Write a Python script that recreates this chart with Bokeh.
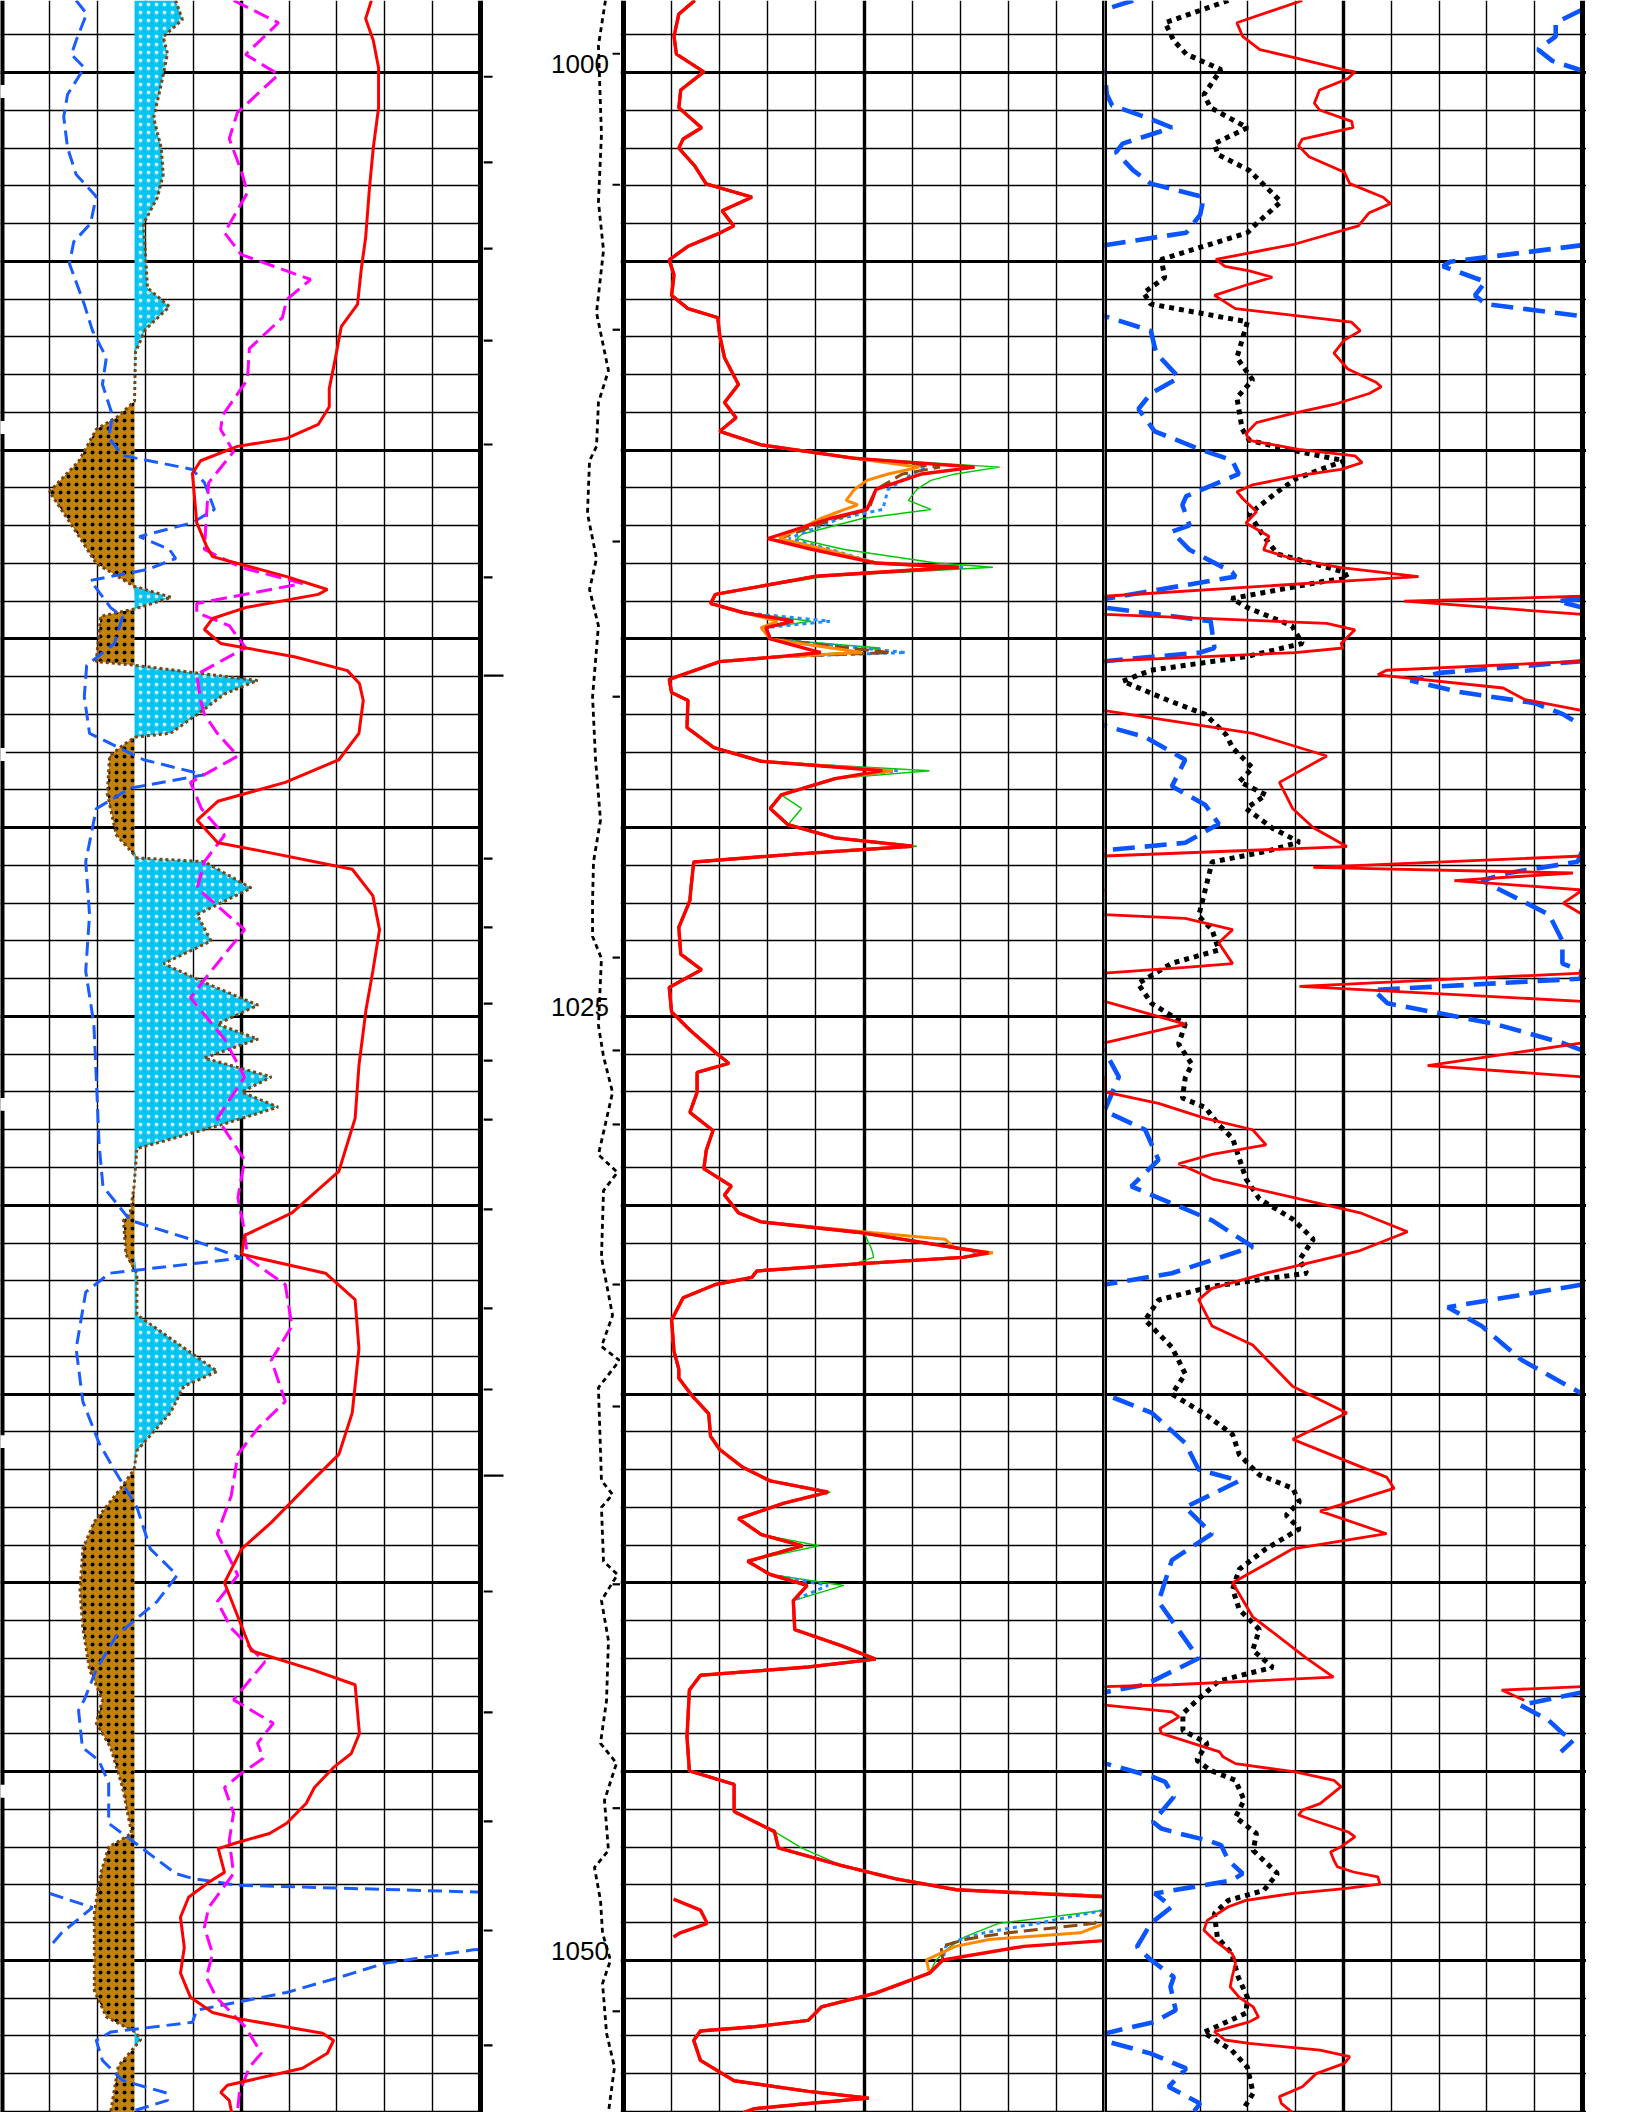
import numpy as np
from bokeh.plotting import figure
from bokeh.layouts import row
from bokeh.models import Range1d, Grid, FixedTicker
from bokeh.embed import file_html
from bokeh.resources import INLINE
from bokeh.core.properties import value

# ---------------- depth window, grid and depth-track marks ----------------
DEPTH_TOP = 998.09
DEPTH_BOTTOM = 1054.03
MAJOR_DEPTHS = list(range(995, 1060, 5))
MINOR_DEPTHS = [d for d in range(995, 1060) if d % 5]
DIVS_MAJOR = [5]
DIVS_MINOR = [1, 2, 3, 4, 6, 7, 8, 9]
DEPTH_LABELS = [1000, 1025, 1050]
LEFT_TICKS = [1000.11, 1002.38, 1004.66, 1007.1, 1009.85, 1013.37, 1020.82, 1022.64, 1024.66,
              1026.17, 1027.73, 1030.11, 1032.73, 1034.88, 1040.23, 1043.43, 1046.32, 1049.21, 1052.25]
LEFT_LONG_TICKS = [1015.97, 1037.16]
RIGHT_TICKS = [999.5, 1002.97, 1006.81, 1012.42, 1016.53, 1023.44, 1025.9, 1027.86, 1032.1,
               1035.33, 1040.04, 1045.97, 1051.35]
EDGE_GAPS = [1000.5, 1009.4, 1018.06, 1027.33, 1036.26, 1045.52]
SP_CUTOFF = 2.77

# ---------------- track 1 ----------------
SP = [(998.09, 3.63), (998.6, 3.77), (999.05, 3.37), (999.5, 3.46), (1000.3, 3.33), (1001.2, 3.17),
      (1002.0, 3.33), (1002.7, 3.37), (1003.3, 3.25), (1004.0, 2.96), (1004.8, 3.0), (1005.7, 3.04),
      (1006.2, 3.5), (1006.8, 3.0), (1007.4, 2.79), (1008.7, 2.77), (1009.1, 2.43), (1009.45, 1.97),
      (1010.3, 1.6), (1011.1, 0.99), (1012.05, 1.49), (1013.0, 1.97), (1013.6, 2.75), (1013.9, 3.54),
      (1014.2, 2.79), (1014.4, 2.06), (1015.6, 1.97), (1015.7, 2.79), (1016.1, 5.34), (1016.46, 4.65),
      (1017.0, 4.08), (1017.5, 3.52), (1017.6, 2.79), (1017.8, 2.54), (1018.1, 2.25), (1019.1, 2.2),
      (1020.2, 2.39), (1020.6, 2.68), (1020.8, 2.82), (1020.9, 4.23), (1021.6, 5.21), (1022.3, 4.08),
      (1023.0, 4.37), (1023.6, 3.38), (1024.1, 4.23), (1024.7, 5.35), (1025.2, 4.5), (1025.6, 5.35),
      (1026.1, 4.23), (1026.6, 5.63), (1027.0, 5.01), (1027.4, 5.77), (1027.9, 4.5), (1028.2, 3.66),
      (1028.5, 2.82), (1029.5, 2.76), (1030.2, 2.68), (1030.4, 2.54), (1031.3, 2.59), (1031.8, 2.82),
      (1032.9, 2.82), (1033.4, 3.38), (1033.9, 3.94), (1034.4, 4.5), (1034.8, 3.8), (1035.5, 3.52),
      (1036.1, 3.1), (1036.5, 2.82), (1037.0, 2.76), (1037.5, 2.48), (1038.4, 1.92), (1039.1, 1.69),
      (1040.2, 1.63), (1041.2, 1.69), (1042.3, 1.83), (1043.1, 2.1), (1043.72, 1.97), (1044.36, 2.27),
      (1045.42, 2.52), (1046.64, 2.71), (1047.0, 2.23), (1047.7, 2.06), (1048.75, 1.93), (1050.8, 1.93),
      (1051.5, 2.18), (1051.9, 2.79), (1052.1, 2.9), (1052.3, 2.77), (1052.8, 2.43), (1054.03, 2.27)]

BLUE1 = [(998.09, 1.55), (998.44, 1.77), (999.15, 1.55), (999.52, 1.45), (999.87, 1.72), (1000.58, 1.37),
         (1001.17, 1.29), (1001.99, 1.37), (1002.7, 1.55), (1003.28, 1.97), (1004.0, 1.85), (1004.48, 1.5),
         (1005.06, 1.41), (1006.14, 1.72), (1006.83, 1.89), (1007.55, 2.18), (1008.26, 2.1), (1009.08, 2.31),
         (1009.67, 2.23), (1010.14, 2.52), (1010.51, 3.98), (1010.86, 4.23), (1011.57, 4.44), (1011.92, 3.98),
         (1012.29, 2.87), (1012.63, 3.5), (1012.87, 3.63), (1013.16, 3.04), (1013.45, 1.85), (1014.17, 2.27),
         (1014.41, 2.52), (1015.12, 2.35), (1015.7, 1.77), (1016.53, 1.72), (1017.5, 1.83), (1018.2, 2.96),
         (1018.6, 4.23), (1018.95, 2.68), (1019.5, 1.97), (1020.9, 1.75), (1022.3, 1.83), (1023.8, 1.75),
         (1025.2, 1.92), (1026.6, 1.97), (1028.4, 2.03), (1029.5, 2.11), (1030.4, 2.68), (1030.9, 3.94),
         (1031.4, 5.01), (1031.8, 2.25), (1032.3, 1.75), (1033.8, 1.55), (1035.2, 1.69), (1036.3, 2.03),
         (1037.1, 2.39), (1038.0, 2.82), (1039.1, 3.1), (1039.8, 3.66), (1040.5, 3.24), (1041.4, 2.39),
         (1042.3, 1.97), (1043.1, 1.72), (1043.38, 1.6), (1044.36, 1.68), (1044.7, 2.02), (1045.3, 2.23),
         (1046.37, 2.23), (1046.9, 2.79), (1047.7, 3.63), (1047.83, 3.98), (1048.01, 4.92), (1048.23, 11.0),
         (1048.6, 11.89), (1049.28, 11.24), (1049.65, 10.99), (1049.72, 9.85), (1050.08, 7.99), (1050.48, 6.97),
         (1050.85, 5.95), (1051.32, 4.07), (1051.64, 3.98), (1051.9, 2.27), (1052.12, 1.97), (1052.65, 2.1),
         (1053.18, 2.52), (1053.52, 3.46), (1053.71, 3.46), (1053.97, 2.79)]

MAGENTA1 = [(998.09, 4.84), (998.68, 5.78), (999.52, 5.09), (1000.05, 5.78), (1001.06, 4.92), (1001.75, 4.75),
            (1002.6, 5.0), (1003.18, 5.13), (1004.24, 4.65), (1004.82, 5.0), (1005.48, 6.45), (1006.01, 5.95),
            (1006.49, 5.86), (1007.31, 5.17), (1008.13, 5.13), (1009.08, 4.61), (1009.45, 4.57), (1010.04, 4.84),
            (1010.86, 4.32), (1011.81, 4.27), (1012.63, 4.23), (1013.11, 5.0), (1013.53, 6.28), (1014.06, 4.07),
            (1014.3, 4.07), (1014.65, 4.75), (1015.23, 5.09), (1015.94, 4.07), (1016.63, 4.15), (1017.0, 4.23),
            (1017.5, 4.5), (1018.1, 4.93), (1018.8, 3.94), (1019.5, 4.17), (1020.2, 4.65), (1020.9, 4.23),
            (1021.6, 4.08), (1022.7, 5.07), (1023.8, 4.37), (1024.5, 3.94), (1025.6, 4.65), (1026.6, 5.07),
            (1027.7, 4.5), (1028.8, 5.07), (1029.8, 4.93), (1030.7, 5.07), (1031.4, 5.13), (1032.1, 5.92),
            (1033.2, 6.06), (1034.1, 5.63), (1035.2, 5.92), (1035.9, 5.35), (1036.6, 4.93), (1037.7, 4.79),
            (1038.7, 4.5), (1039.8, 4.93), (1040.5, 4.5), (1041.2, 4.79), (1042.1, 5.49), (1043.1, 4.84),
            (1043.72, 5.67), (1044.25, 5.34), (1044.65, 5.46), (1045.05, 5.0), (1045.42, 4.65), (1046.1, 4.84),
            (1046.82, 4.75), (1047.7, 4.84), (1048.6, 4.32), (1049.13, 4.23), (1049.82, 4.4), (1050.45, 4.27),
            (1050.98, 4.48), (1051.77, 5.09), (1052.46, 5.42), (1052.83, 5.17), (1053.52, 4.96), (1054.03, 4.92)]

RED1 = [(998.09, 7.72), (998.57, 7.6), (999.15, 7.76), (999.87, 7.87), (1000.93, 7.87), (1001.99, 7.76),
        (1003.05, 7.68), (1004.37, 7.6), (1005.19, 7.51), (1006.14, 7.43), (1006.73, 7.09), (1007.55, 6.97),
        (1008.37, 6.84), (1008.85, 6.84), (1009.32, 6.61), (1009.69, 5.95), (1009.9, 4.92), (1010.28, 4.15),
        (1010.62, 3.98), (1011.92, 4.07), (1012.53, 4.27), (1012.82, 4.4), (1013.35, 5.95), (1013.69, 6.8),
        (1013.82, 6.61), (1014.17, 5.09), (1014.46, 4.4), (1014.75, 4.23), (1015.12, 4.57), (1015.47, 6.11),
        (1015.84, 7.22), (1016.18, 7.47), (1016.63, 7.55), (1017.5, 7.46), (1018.2, 7.04), (1018.8, 5.92),
        (1019.3, 4.51), (1019.8, 4.08), (1020.4, 4.51), (1020.6, 5.35), (1021.1, 7.32), (1021.8, 7.75),
        (1022.7, 7.89), (1023.8, 7.75), (1024.8, 7.61), (1026.3, 7.46), (1027.7, 7.38), (1029.1, 7.04),
        (1030.2, 6.06), (1030.8, 5.07), (1031.3, 5.01), (1031.8, 6.76), (1032.5, 7.38), (1033.8, 7.46),
        (1035.5, 7.32), (1036.6, 7.04), (1037.3, 6.48), (1038.4, 5.63), (1039.1, 5.01), (1040.0, 4.65),
        (1040.9, 4.93), (1041.8, 5.21), (1042.3, 6.48), (1042.7, 7.38), (1043.99, 7.47), (1044.52, 7.3),
        (1044.89, 6.93), (1045.42, 6.53), (1045.84, 6.36), (1046.37, 5.95), (1046.64, 5.59), (1046.88, 4.92),
        (1047.04, 4.52), (1047.67, 4.65), (1047.93, 4.32), (1048.33, 3.9), (1048.86, 3.73), (1049.66, 3.81),
        (1050.34, 3.73), (1050.98, 3.94), (1051.38, 4.4), (1051.54, 4.92), (1051.93, 6.7), (1052.12, 6.93),
        (1052.46, 6.8), (1052.86, 6.28), (1053.31, 4.71), (1053.5, 4.57), (1053.71, 4.75), (1054.03, 4.8)]

# ---------------- depth track curve ----------------
DEPTH_CURVE = [(998.09, 8.9), (999.28, 8.39), (1001.64, 8.61), (1003.42, 8.39), (1004.71, 8.76), (1006.36, 8.25),
               (1007.89, 9.12), (1008.74, 8.39), (1009.9, 8.25), (1010.28, 7.74), (1011.68, 7.59), (1012.87, 8.25),
               (1013.69, 7.74), (1014.65, 8.39), (1016.53, 7.96), (1018.2, 8.18), (1019.8, 8.54), (1020.9, 8.03),
               (1021.93, 7.96), (1022.88, 7.96), (1023.46, 8.61), (1025.24, 8.39), (1026.06, 8.76), (1027.01, 9.42),
               (1028.66, 8.39), (1029.13, 9.78), (1029.61, 8.76), (1031.38, 8.61), (1032.92, 9.42), (1033.74, 8.61),
               (1034.11, 9.93), (1034.83, 8.39), (1037.29, 8.61), (1037.66, 9.42), (1038.0, 8.61), (1039.43, 8.76),
               (1039.78, 9.78), (1040.47, 8.61), (1041.53, 9.12), (1043.12, 8.98), (1044.25, 8.54), (1044.78, 9.71),
               (1045.76, 8.83), (1047.09, 9.12), (1047.54, 8.1), (1048.41, 8.54), (1049.28, 8.69), (1050.0, 9.27),
               (1050.61, 8.69), (1051.93, 8.98), (1052.83, 9.56), (1054.03, 9.12)]

# ---------------- track 2 ----------------
RED2 = [(998.09, 1.48), (998.45, 1.15), (999.04, 1.05), (999.51, 1.1), (999.98, 1.67), (1000.46, 1.19),
        (1000.93, 1.15), (1001.46, 1.62), (1001.76, 1.24), (1002.0, 1.15), (1002.47, 1.48), (1002.95, 1.72),
        (1003.3, 2.67), (1003.66, 2.05), (1004.06, 2.29), (1004.25, 2.0), (1004.6, 1.34), (1004.96, 0.95),
        (1005.36, 1.05), (1005.9, 1.0), (1006.25, 1.34), (1006.49, 1.96), (1006.96, 2.0), (1007.55, 2.1),
        (1008.26, 2.39), (1008.74, 2.1), (1009.14, 2.34), (1009.5, 2.0), (1009.86, 2.86), (1010.21, 4.77),
        (1010.45, 7.3), (1010.63, 6.2), (1011.04, 5.25), (1011.57, 5.06), (1011.81, 4.29), (1012.34, 3.0),
        (1012.63, 3.91), (1012.99, 5.25), (1013.1, 6.97), (1013.34, 4.0), (1013.82, 1.91), (1014.06, 1.81),
        (1014.3, 2.48), (1014.53, 3.53), (1014.7, 2.96), (1015.0, 3.05), (1015.36, 4.1), (1015.47, 3.24),
        (1015.6, 2.0), (1016.07, 0.95), (1016.42, 1.0), (1016.63, 1.34), (1017.35, 1.32), (1017.88, 1.88),
        (1018.24, 2.86), (1018.49, 5.38), (1018.7, 4.4), (1019.13, 3.28), (1019.49, 3.05), (1019.92, 3.42),
        (1020.27, 4.4), (1020.49, 6.02), (1020.7, 3.56), (1020.91, 1.46), (1021.63, 1.4), (1021.93, 1.38),
        (1022.64, 1.15), (1023.35, 1.19), (1023.76, 1.62), (1024.23, 0.95), (1024.88, 1.0), (1025.36, 1.38),
        (1025.95, 1.91), (1026.24, 2.19), (1026.48, 1.53), (1027.01, 1.53), (1027.54, 1.38), (1028.02, 1.86),
        (1028.55, 1.72), (1029.03, 1.67), (1029.49, 2.24), (1029.73, 2.1), (1030.2, 2.39), (1030.44, 2.86),
        (1030.73, 4.96), (1031.14, 6.97), (1031.26, 7.59), (1031.38, 7.06), (1031.56, 4.77), (1031.74, 2.77),
        (1031.91, 2.67), (1032.1, 1.91), (1032.45, 1.24), (1033.04, 1.0), (1033.87, 1.05), (1034.34, 1.15),
        (1034.58, 1.15), (1035.05, 1.43), (1035.52, 1.77), (1036.12, 1.81), (1036.47, 2.0), (1036.94, 2.48),
        (1037.3, 3.05), (1037.6, 4.25), (1037.89, 3.34), (1038.3, 2.39), (1038.72, 2.86), (1039.02, 3.72),
        (1039.43, 2.58), (1039.78, 3.05), (1040.07, 3.82), (1040.47, 3.53), (1041.24, 3.56), (1041.67, 4.54),
        (1042.02, 5.24), (1042.23, 3.84), (1042.45, 1.6), (1042.84, 1.37), (1044.09, 1.32), (1044.98, 1.37),
        (1045.34, 2.3), (1046.06, 2.3), (1046.59, 3.14), (1047.02, 3.22), (1047.49, 4.54), (1047.84, 5.66),
        (1048.13, 6.92), (1048.38, 11.04), (1048.67, 11.6), (1049.02, 11.74), (1049.27, 11.18),
        (1049.38, 11.04), (1049.63, 8.32), (1049.99, 6.64), (1050.34, 6.36), (1050.87, 5.24),
        (1051.23, 4.12), (1051.59, 3.84), (1051.76, 2.72), (1051.87, 1.6), (1052.12, 1.46), (1052.65, 1.6),
        (1053.19, 2.3), (1053.47, 3.84), (1053.65, 5.1), (1053.79, 3.84), (1053.93, 2.72), (1054.03, 2.5)]

GREEN2_DIFF = {1010.21: 4.9, 1010.45: 7.82, 1010.63: 6.9, 1010.8: 6.39, 1011.04: 6.1, 1011.33: 5.92,
               1011.57: 6.39, 1011.81: 4.96, 1012.22: 3.72, 1012.34: 3.6, 1012.52: 4.2, 1012.63: 4.6,
               1012.99: 6.5, 1013.1: 7.68, 1013.34: 4.2, 1014.53: 3.9, 1015.24: 5.34, 1015.36: 4.6,
               1018.49: 6.36, 1019.49: 3.7, 1020.49: 6.1, 1030.73: 5.0, 1031.14: 5.15, 1031.26: 5.18,
               1031.38: 5.2, 1031.56: 4.77, 1037.6: 4.3, 1039.02: 4.06, 1040.07: 4.58, 1042.02: 5.2,
               1047.02: 3.7, 1048.3: 10.0, 1048.38: 10.0, 1048.67: 10.0, 1049.02: 7.8, 1049.27: 7.3,
               1049.38: 7.1, 1049.45: 7.0, 1049.63: 6.8, 1049.99: 6.5}
ORANGE2_DIFF = {1010.45: 6.15, 1010.63: 5.5, 1010.8: 5.06, 1011.04: 4.8, 1011.33: 4.63, 1011.45: 4.87,
                1011.57: 4.6, 1011.81: 4.1, 1012.34: 3.24, 1012.63: 4.2, 1013.1: 6.87, 1014.53: 3.2,
                1014.7: 2.86, 1015.36: 4.96, 1018.49: 5.6, 1020.49: 6.0, 1030.73: 5.2, 1030.9: 6.68,
                1031.14: 6.9, 1031.26: 7.68, 1048.3: 10.0, 1048.38: 10.0, 1048.67: 10.0, 1049.02: 10.0,
                1049.27: 9.5, 1049.38: 8.3, 1049.45: 7.6, 1049.63: 6.9, 1049.99: 6.3}
BROWN2_DIFF = {1010.45: 6.58, 1010.63: 5.8, 1011.04: 5.25, 1011.57: 5.1, 1011.81: 4.4, 1012.34: 3.24,
               1012.63: 4.1, 1013.1: 6.97, 1015.36: 5.53, 1018.49: 5.5, 1048.3: 10.0, 1048.38: 10.0,
               1048.67: 10.0, 1049.02: 9.8, 1049.27: 8.0, 1049.38: 7.4, 1049.45: 7.1, 1049.63: 6.6}
BLUE2_DIFF = {1010.45: 6.3, 1010.63: 6.0, 1011.04: 5.5, 1011.57: 5.39, 1011.81: 4.5, 1012.34: 3.44,
              1012.63: 4.3, 1013.1: 7.06, 1014.53: 4.29, 1015.36: 5.87, 1018.49: 5.7, 1031.26: 7.44,
              1037.6: 4.29, 1040.07: 4.25, 1048.3: 10.0, 1048.38: 10.0, 1048.67: 10.0, 1049.02: 8.6,
              1049.27: 7.5, 1049.38: 7.2, 1049.45: 7.0, 1049.63: 6.7}

# ---------------- track 3 ----------------
DOT3 = [(998.09, 2.59), (998.68, 1.27), (999.15, 1.45), (999.51, 1.71), (999.92, 2.44), (1000.58, 2.08),
        (1000.93, 2.22), (1001.46, 2.99), (1001.88, 2.3), (1002.17, 2.37), (1002.59, 3.03), (1003.42, 3.69),
        (1004.0, 3.18), (1004.24, 2.99), (1004.95, 1.19), (1005.43, 1.26), (1005.83, 0.82), (1006.13, 0.97),
        (1006.6, 2.99), (1007.55, 2.77), (1008.14, 3.1), (1008.61, 2.77), (1009.44, 2.88), (1009.74, 3.03),
        (1010.04, 4.06), (1010.28, 5.02), (1010.74, 4.03), (1011.1, 3.62), (1011.69, 3.03), (1012.28, 3.33),
        (1012.75, 3.62), (1013.23, 5.02), (1013.4, 5.09), (1013.46, 4.65), (1013.93, 2.66), (1014.17, 2.99),
        (1014.65, 3.92), (1015.12, 4.14), (1015.47, 2.96), (1015.83, 0.97), (1016.12, 0.38), (1016.63, 1.34),
        (1017.0, 2.11), (1017.53, 2.54), (1017.88, 2.68), (1018.42, 3.1), (1018.78, 2.82), (1019.13, 3.38),
        (1019.49, 2.96), (1020.02, 3.52), (1020.38, 4.08), (1020.63, 3.38), (1020.91, 2.25), (1021.63, 2.11),
        (1022.34, 1.97), (1022.7, 2.25), (1023.24, 2.39), (1023.59, 1.41), (1024.13, 0.7), (1024.66, 0.99),
        (1025.2, 1.69), (1025.73, 1.55), (1026.27, 1.83), (1026.62, 1.69), (1027.16, 1.63), (1027.41, 2.11),
        (1027.87, 2.39), (1028.23, 2.68), (1028.76, 2.82), (1029.3, 2.96), (1029.83, 3.24), (1030.37, 3.94),
        (1030.9, 4.37), (1031.44, 4.08), (1031.8, 4.23), (1032.15, 2.25), (1032.51, 1.13), (1033.04, 0.85),
        (1033.76, 1.41), (1034.47, 1.69), (1035.0, 1.41), (1035.54, 2.11), (1036.07, 2.68), (1036.61, 2.82),
        (1037.14, 3.24), (1037.5, 3.94), (1037.86, 4.08), (1038.21, 3.8), (1038.57, 4.08), (1039.1, 3.38),
        (1039.64, 2.82), (1040.17, 2.68), (1040.71, 2.82), (1041.24, 3.24), (1041.78, 3.1), (1042.24, 3.52),
        (1042.6, 2.39), (1043.2, 1.86), (1043.46, 1.64), (1043.91, 1.64), (1044.25, 2.15), (1044.7, 1.93),
        (1044.97, 2.22), (1045.23, 2.74), (1045.76, 2.92), (1046.21, 2.74), (1046.64, 3.18), (1047.09, 3.11),
        (1047.7, 3.62), (1048.15, 3.33), (1048.41, 2.59), (1048.76, 2.3), (1049.39, 2.36), (1049.81, 2.66),
        (1050.45, 2.8), (1050.98, 2.99), (1051.4, 2.96), (1051.91, 2.07), (1052.38, 2.66), (1052.83, 2.99),
        (1053.52, 3.11), (1053.97, 2.89)]

RED3 = [(998.09, 4.14), (998.68, 2.77), (999.04, 2.89), (999.39, 3.25), (999.63, 4.06), (999.93, 5.02),
        (999.98, 5.24), (1000.16, 5.09), (1000.46, 4.5), (1000.81, 4.39), (1000.99, 4.5), (1001.29, 5.17),
        (1001.46, 5.2), (1001.76, 4.14), (1001.94, 4.06), (1002.23, 4.28), (1002.64, 5.02), (1002.94, 5.13),
        (1003.3, 5.83), (1003.47, 5.98), (1003.71, 5.54), (1004.06, 5.31), (1004.54, 3.99), (1004.95, 2.33),
        (1005.13, 2.52), (1005.25, 3.03), (1005.42, 3.51), (1005.6, 3.03), (1005.9, 2.3), (1006.25, 2.74),
        (1006.61, 5.17), (1006.84, 5.35), (1007.08, 5.02), (1007.43, 4.8), (1007.85, 5.09), (1008.2, 5.68),
        (1008.32, 5.79), (1008.5, 5.54), (1008.79, 4.8), (1009.03, 3.92), (1009.27, 3.18), (1009.56, 2.96),
        (1009.74, 3.03), (1009.98, 4.06), (1010.15, 5.24), (1010.33, 5.39), (1010.51, 4.95), (1010.69, 3.99),
        (1010.92, 3.1), (1011.1, 2.77), (1011.28, 2.89), (1011.63, 3.18), (1011.93, 2.96), (1012.28, 3.44),
        (1012.64, 3.33), (1012.87, 3.92), (1013.11, 4.95), (1013.35, 6.57), (1013.46, 5.09), (1013.87, 0.0),
        (1014.0, -3.73), (1014.35, 0.0), (1014.59, 4.65), (1014.76, 5.24), (1015.12, 4.95), (1015.24, 4.99),
        (1015.36, 3.99), (1015.59, 0.0), (1015.83, -4.1), (1015.95, -4.28), (1016.3, -1.66), (1016.6, -1.22),
        (1016.9, 0.0), (1017.5, 3.1), (1018.1, 4.65), (1018.8, 3.66), (1019.5, 3.94), (1020.0, 4.37),
        (1020.5, 5.07), (1020.75, 0.0), (1021.05, -5.63), (1021.2, -0.2), (1021.4, -2.68), (1021.65, 0.0),
        (1022.0, -0.4), (1022.3, 0.0), (1022.4, 1.69), (1022.7, 2.68), (1023.05, 2.39), (1023.6, 2.68),
        (1023.7, 1.69), (1023.85, 0.0), (1024.2, -5.92), (1024.6, 0.0), (1025.2, 1.69), (1025.7, 0.0),
        (1026.3, -3.24), (1026.6, 0.0), (1027.0, 0.0), (1027.3, 1.13), (1027.7, 2.11), (1028.0, 3.1),
        (1028.4, 3.38), (1028.65, 2.25), (1028.9, 1.55), (1029.3, 2.25), (1030.2, 5.35), (1030.7, 6.34),
        (1031.2, 5.35), (1031.8, 3.38), (1032.2, 2.25), (1032.5, 1.97), (1033.2, 2.25), (1033.7, 3.1),
        (1034.8, 3.94), (1035.5, 5.07), (1036.2, 3.94), (1037.2, 5.9), (1037.5, 6.06), (1038.1, 4.51),
        (1038.7, 5.9), (1039.1, 3.94), (1040.0, 2.68), (1040.9, 3.1), (1042.0, 4.23), (1042.5, 4.79),
        (1042.7, 1.41), (1042.75, 0.0), (1042.84, -1.69), (1043.11, -1.22), (1043.24, 0.01), (1043.42, 1.41),
        (1043.55, 1.56), (1043.86, 1.16), (1043.99, 1.19), (1044.48, 2.41), (1044.61, 2.48), (1044.79, 2.74),
        (1045.01, 3.99), (1045.23, 4.8), (1045.4, 4.95), (1045.85, 4.51), (1046.02, 4.14), (1046.15, 4.06),
        (1046.29, 4.36), (1046.6, 5.1), (1046.73, 5.24), (1046.99, 4.95), (1047.13, 4.73), (1047.35, 4.8),
        (1047.52, 4.87), (1047.66, 5.21), (1047.79, 5.72), (1047.98, 5.76), (1048.1, 5.02), (1048.23, 3.92),
        (1048.41, 2.96), (1048.58, 2.59), (1048.94, 2.15), (1049.2, 2.08), (1049.47, 2.3), (1049.82, 2.67),
        (1050.08, 2.74), (1050.44, 2.67), (1050.7, 2.63), (1050.97, 2.81), (1051.23, 3.11), (1051.5, 3.22),
        (1051.63, 3.03), (1051.89, 2.3), (1052.11, 2.52), (1052.2, 3.03), (1052.38, 4.51), (1052.55, 5.13),
        (1052.73, 5.02), (1053.0, 4.43), (1053.35, 4.14), (1053.61, 3.66), (1053.79, 3.7), (1054.02, 3.92)]

BLUE3 = [(998.09, 0.6), (998.33, 0.0), (998.68, -0.56), (999.04, -0.56), (999.39, -0.93), (999.69, -0.63),
         (999.95, 0.0), (1000.58, 0.05), (1000.87, 0.16), (1001.23, 0.97), (1001.46, 1.41), (1001.88, 0.38),
         (1002.11, 0.24), (1002.59, 0.6), (1002.94, 0.97), (1003.3, 2.08), (1003.77, 2.0), (1004.24, 1.71),
         (1004.57, 0.0), (1005.01, -2.77), (1005.13, -2.92), (1005.54, -2.03), (1005.9, -2.25), (1006.13, -2.03),
         (1006.45, 0.0), (1006.84, 0.97), (1007.43, 1.08), (1008.08, 1.56), (1008.5, 0.97), (1008.91, 0.71),
         (1009.5, 1.05), (1009.98, 2.0), (1010.27, 2.67), (1010.63, 2.81), (1011.22, 1.71), (1011.45, 1.63),
         (1011.99, 1.78), (1012.16, 1.41), (1012.64, 1.78), (1013.23, 2.67), (1013.35, 2.74), (1013.94, 0.0),
         (1014.0, -0.52), (1014.17, 0.0), (1014.53, 2.22), (1015.24, 2.3), (1015.36, 2.0), (1015.59, 0.0),
         (1015.9, -3.0), (1016.1, -3.6), (1016.4, -2.6), (1016.7, -1.0), (1017.0, -0.4), (1017.3, 0.0),
         (1017.6, 0.85), (1018.2, 1.69), (1018.9, 1.41), (1019.4, 2.11), (1019.9, 2.39), (1020.4, 1.69),
         (1020.6, 0.0), (1020.9, -0.1), (1021.2, -1.55), (1021.4, -2.11), (1022.3, -0.7), (1023.0, -0.42),
         (1023.6, -0.42), (1023.8, 0.0), (1024.0, -0.05), (1024.3, -4.37), (1024.65, -4.08), (1025.2, -1.83),
         (1025.7, -0.42), (1025.9, 0.0), (1026.6, 0.3), (1027.5, 0.0), (1028.0, 0.85), (1028.8, 1.13),
         (1029.5, 0.56), (1030.4, 2.25), (1031.1, 3.1), (1031.8, 1.41), (1032.1, 0.0), (1032.7, -2.82),
         (1033.2, -2.11), (1034.1, -1.27), (1035.0, 0.0), (1035.5, 0.99), (1036.3, 1.69), (1037.0, 1.97),
         (1037.3, 2.82), (1038.0, 1.69), (1038.7, 2.25), (1039.4, 1.41), (1040.5, 1.13), (1042.0, 1.97),
         (1042.7, 0.85), (1042.9, 0.0), (1043.24, -1.3), (1043.64, -0.71), (1043.99, -0.41), (1044.17, -0.19),
         (1044.48, -0.45), (1044.79, 0.03), (1045.14, 1.01), (1045.27, 1.27), (1045.67, 1.45), (1046.11, 1.16),
         (1046.33, 1.01), (1046.51, 1.19), (1046.64, 1.56), (1046.82, 2.15), (1046.95, 2.44), (1047.35, 2.59),
         (1047.7, 2.89), (1047.88, 2.67), (1048.23, 1.05), (1048.58, 1.41), (1049.02, 0.97), (1049.64, 0.68),
         (1049.99, 0.97), (1050.44, 1.45), (1050.7, 1.38), (1051.32, 1.49), (1051.63, 1.05), (1051.89, 0.16),
         (1051.94, -0.02), (1052.16, 0.09), (1052.47, 0.97), (1052.86, 1.71), (1053.35, 1.34), (1053.79, 2.0),
         (1054.02, 1.86)]

# ---------------- styles ----------------
BROWN_FILL = "#C3820A"
CYAN_FILL = "#05C3F3"
H = 2112
SCALE_SPAN = 10


def make_track(width, xr):
    p = figure(width=width, height=H, x_range=Range1d(*xr), y_range=Range1d(DEPTH_BOTTOM, DEPTH_TOP),
               output_backend="svg", toolbar_location=None, x_axis_location=None,
               y_axis_location=None, min_border=0, title=None)
    p.center = [r for r in p.center if not isinstance(r, Grid)]
    p.outline_line_color = None
    p.border_fill_color = "white"
    p.background_fill_color = "white"
    return p


def add_grid(p):
    p.add_layout(Grid(dimension=0, ticker=FixedTicker(ticks=DIVS_MAJOR, minor_ticks=DIVS_MINOR),
                      grid_line_color="black", grid_line_width=3.4,
                      minor_grid_line_color="black", minor_grid_line_width=1.4))
    p.add_layout(Grid(dimension=1, ticker=FixedTicker(ticks=MAJOR_DEPTHS, minor_ticks=MINOR_DEPTHS),
                      grid_line_color="black", grid_line_width=3,
                      minor_grid_line_color="black", minor_grid_line_width=1.3))


def split(pts):
    return [a for a, _ in pts], np.array([b for _, b in pts], dtype=float)


def curve(p, pts, **kw):
    """Draw a log curve; readings beyond the scale are also drawn on the wrap-around backup scale."""
    d, v = split(pts)
    p.line(v, d, **kw)
    hi = np.where(v > SCALE_SPAN, v - SCALE_SPAN, np.nan)
    lo = np.where(v <= 0, v + SCALE_SPAN, np.nan)
    if np.isfinite(hi).sum() > 1:
        p.line(hi, d, **kw)
    if np.isfinite(lo).sum() > 1:
        p.line(lo, d, **kw)


def variant(base, diff):
    m = dict(base)
    m.update(diff)
    return sorted(m.items())


def edges(p, xs):
    p.segment(x0=xs, x1=xs, y0=DEPTH_TOP, y1=DEPTH_BOTTOM, line_color="black", line_width=5)


# ---------------- track 1 ----------------
t1 = make_track(483, (-0.031, 10.063))
add_grid(t1)
sp_d, sp_v = split(SP)
t1.harea(y=sp_d, x1=np.minimum(sp_v, SP_CUTOFF), x2=SP_CUTOFF, fill_color=BROWN_FILL,
         hatch_pattern="dot", hatch_color="black", hatch_scale=8, hatch_weight=1.8)
t1.harea(y=sp_d, x1=SP_CUTOFF, x2=np.maximum(sp_v, SP_CUTOFF), fill_color=CYAN_FILL,
         hatch_pattern="dot", hatch_color="#BDEFFF", hatch_scale=8, hatch_weight=0.9)
t1.line(sp_v, sp_d, line_color="#7A4410", line_width=3, line_dash="3 3")
curve(t1, BLUE1, line_color="#1A5CFF", line_width=3, line_dash="14 7")
curve(t1, MAGENTA1, line_color="#FF00FF", line_width=3, line_dash="16 7")
curve(t1, RED1, line_color="#FF0000", line_width=3)
edges(t1, [0, 10])
t1.quad(left=-0.05, right=0.08, top=[g - 0.17 for g in EDGE_GAPS], bottom=[g + 0.17 for g in EDGE_GAPS],
        fill_color="white", line_color=None)
t1.scatter(x=[10.06], y=[1028.97], size=7, color="black")

# ---------------- depth track ----------------
td = make_track(137, (0, 10))
td.text(x=[9.15] * len(DEPTH_LABELS), y=DEPTH_LABELS, text=[str(v) for v in DEPTH_LABELS],
        text_align="right", text_baseline="middle", y_offset=-9,
        text_font=value("Liberation Sans"), text_font_size="26px", text_color="black")
dd, dv = split(DEPTH_CURVE)
td.line(dv, dd, line_color="black", line_width=2.8, line_dash="5 4")
td.segment(x0=0, x1=0.66, y0=LEFT_TICKS, y1=LEFT_TICKS, line_color="black", line_width=2.2)
td.segment(x0=0, x1=1.46, y0=LEFT_LONG_TICKS, y1=LEFT_LONG_TICKS, line_color="black", line_width=2.2)
td.segment(x0=9.42, x1=10, y0=RIGHT_TICKS, y1=RIGHT_TICKS, line_color="black", line_width=2.2)

# ---------------- track 2 ----------------
t2 = make_track(484, (-0.0624, 10.0))
add_grid(t2)
curve(t2, variant(RED2, GREEN2_DIFF), line_color="#00C800", line_width=1.4)
curve(t2, variant(RED2, BLUE2_DIFF), line_color="#1E8CFF", line_width=3, line_dash="4 4")
curve(t2, variant(RED2, BROWN2_DIFF), line_color="#8B4A0A", line_width=3, line_dash="14 6")
curve(t2, variant(RED2, ORANGE2_DIFF), line_color="#FF8800", line_width=3)
curve(t2, RED2, line_color="#FF0000", line_width=3.4)
edges(t2, [0, 10])

# ---------------- track 3 ----------------
t3 = make_track(482, (0, 10.084))
add_grid(t3)
curve(t3, BLUE3, line_color="#0A55FF", line_width=4.6, line_dash="22 10")
curve(t3, DOT3, line_color="black", line_width=5, line_dash="5 5")
curve(t3, RED3, line_color="#FF0000", line_width=2.8)
edges(t3, [0, 10])

layout = row(t1, td, t2, t3)
open("out.html", "w").write(file_html(layout, INLINE))
